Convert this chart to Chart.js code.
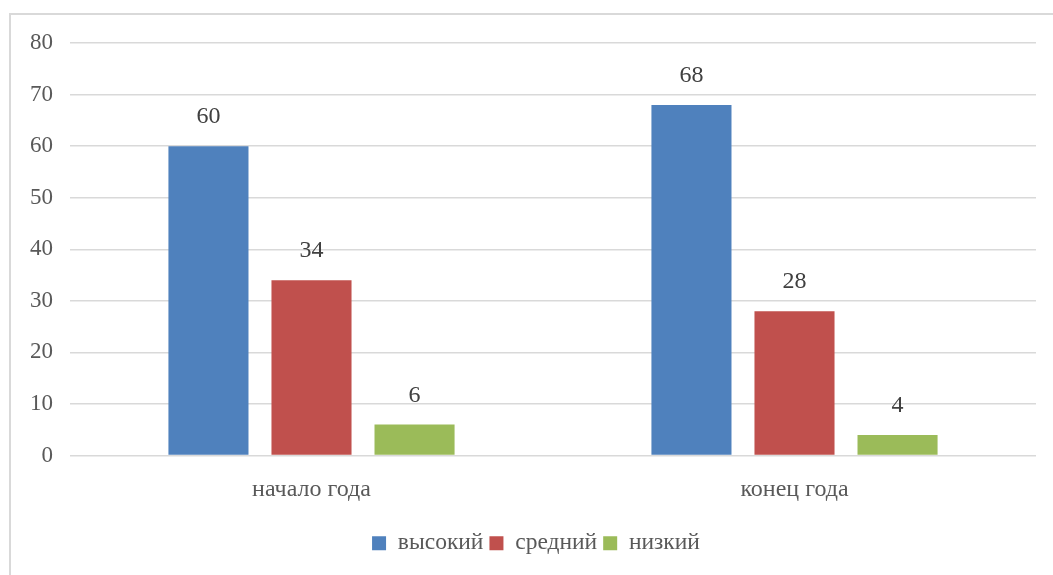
<!DOCTYPE html>
<html>
<head>
<meta charset="utf-8">
<script src="https://cdn.jsdelivr.net/npm/chart.js@4.4.0/dist/chart.umd.min.js"></script>
<style>
html,body{margin:0;padding:0;background:#fff;}
#wrap{width:1053px;height:575px;position:relative;}
</style>
</head>
<body>
<div id="wrap"><canvas id="c" width="1053" height="575"></canvas></div>
<script>
const categories = ['начало года', 'конец года'];
const seriesNames = ['высокий', 'средний', 'низкий'];
const high = [60, 68];
const mid = [34, 28];
const low = [6, 4];
const yTicks = [0, 10, 20, 30, 40, 50, 60, 70, 80];

const colors = ['#4f81bd', '#c0504d', '#9bbb59'];
const FONT = "'Liberation Serif', 'Times New Roman', serif";
const TEXT = '#595959';

const framePlugin = {
  id: 'frame',
  beforeDraw(chart) {
    const ctx = chart.ctx;
    ctx.save();
    ctx.strokeStyle = '#d9d9d9';
    ctx.lineWidth = 2;
    ctx.strokeRect(10, 14, 1100, 620);
    ctx.restore();
  }
};

// centre the legend under the whole frame (as in the source) rather than under the padded box
const legendShift = {
  id: 'legendShift',
  afterLayout(chart) {
    if (chart.legend) {
      chart.legend.left += 18;
      chart.legend.right += 18;
    }
  }
};

const labelPlugin = {
  id: 'valueLabels',
  afterDatasetsDraw(chart) {
    const ctx = chart.ctx;
    ctx.save();
    ctx.font = '24px ' + FONT;
    ctx.fillStyle = '#404040';
    ctx.textAlign = 'center';
    ctx.textBaseline = 'middle';
    chart.data.datasets.forEach((ds, i) => {
      const meta = chart.getDatasetMeta(i);
      meta.data.forEach((bar, j) => {
        ctx.fillText(String(ds.data[j]), bar.x, bar.y - 29);
      });
    });
    ctx.restore();
  }
};

new Chart(document.getElementById('c'), {
  type: 'bar',
  data: {
    labels: categories,
    datasets: [
      { label: seriesNames[0], data: high, backgroundColor: colors[0] },
      { label: seriesNames[1], data: mid, backgroundColor: colors[1] },
      { label: seriesNames[2], data: low, backgroundColor: colors[2] }
    ]
  },
  options: {
    responsive: false,
    animation: false,
    devicePixelRatio: 1,
    layout: { padding: { left: 0, right: 17, top: 43, bottom: 10 } },
    datasets: { bar: { categoryPercentage: 0.64, barPercentage: 0.777 } },
    scales: {
      x: {
        grid: { display: false },
        border: { display: false },
        ticks: { color: TEXT, font: { family: FONT, size: 24 }, padding: 12 },
        afterFit(scale) { scale.height = 70; }
      },
      y: {
        min: 0, max: 80,
        afterBuildTicks(scale) { scale.ticks = yTicks.map(v => ({ value: v })); },
        grid: { color: '#d9d9d9', lineWidth: 1.5, drawTicks: false },
        border: { display: false },
        ticks: { color: TEXT, font: { family: FONT, size: 23 }, padding: 17 },
        afterFit(scale) { scale.width = 70; }
      }
    },
    plugins: {
      legend: {
        position: 'bottom',
        labels: {
          color: TEXT,
          font: { family: FONT, size: 23.5 },
          boxWidth: 14, boxHeight: 14, padding: 6
        }
      },
      tooltip: { enabled: false }
    }
  },
  plugins: [framePlugin, legendShift, labelPlugin]
});
</script>
</body>
</html>
